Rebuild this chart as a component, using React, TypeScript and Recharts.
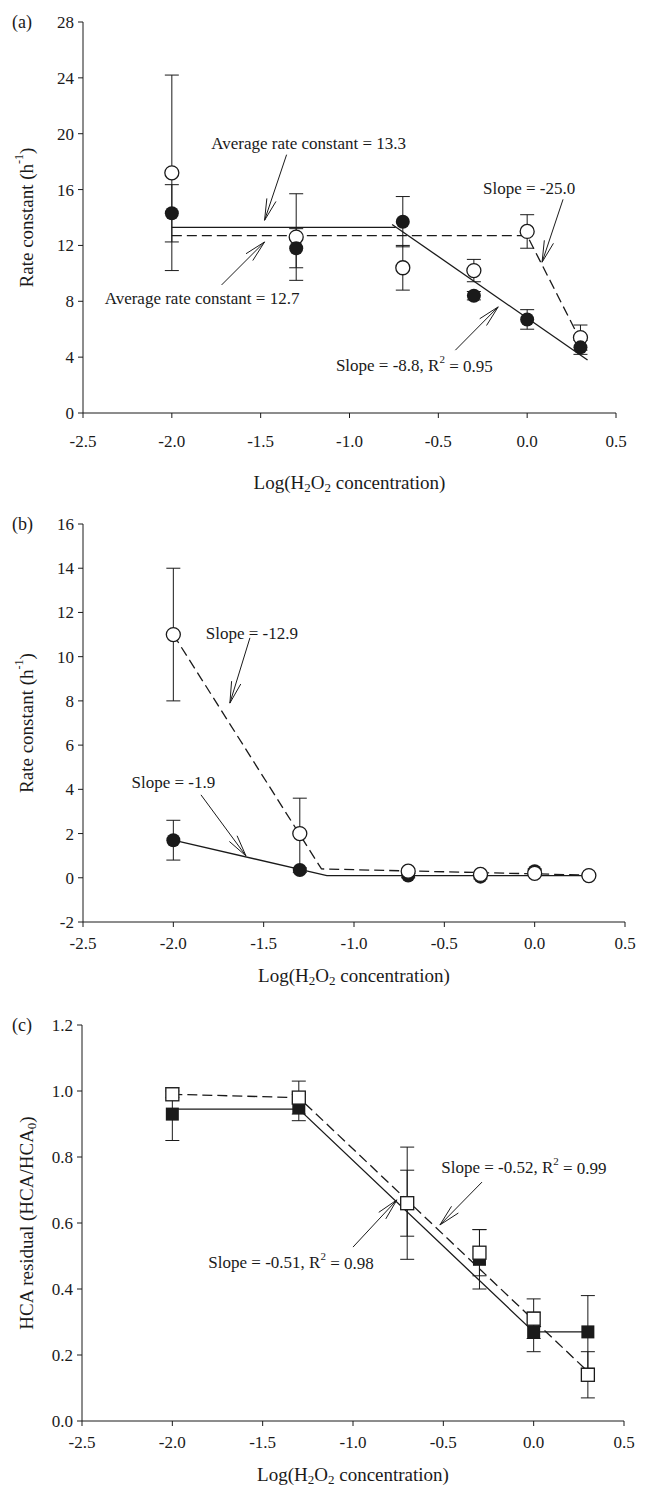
import React from "react";
import {
  ScatterChart,
  Scatter,
  XAxis,
  YAxis,
  ErrorBar,
  ReferenceLine,
  ReferenceDot,
} from "recharts";

const FONT = "'Liberation Serif', 'Times New Roman', serif";
const INK = "#1a1a1a";
const DASH = "10 5";

// shared x positions (log of H2O2 concentration)
const concX = [-2.0, -1.3, -0.7, -0.3, 0.0, 0.3];
const xTicks = [-2.5, -2.0, -1.5, -1.0, -0.5, 0.0, 0.5];

// panel (a)
const aYTicks = [0, 4, 8, 12, 16, 20, 24, 28];
const aOpenY = [17.2, 12.6, 10.4, 10.2, 13.0, 5.4];
const aOpenErr = [7.0, 3.1, 1.6, 0.8, 1.2, 0.9];
const aFilledY = [14.3, 11.8, 13.7, 8.4, 6.7, 4.7];
const aFilledErr = [2.05, 1.4, 1.8, 0.3, 0.7, 0.5];
const aAvgSolidX = [-2.0, -0.74];
const aAvgSolidY = [13.3, 13.3];
const aSlopeSolidX = [-0.76, 0.34];
const aSlopeSolidY = [13.5, 3.8];
const aDashX = [-2.0, 0.0, 0.28];
const aDashY = [12.7, 12.7, 5.7];

// panel (b)
const bYTicks = [-2, 0, 2, 4, 6, 8, 10, 12, 14, 16];
const bOpenY = [11.0, 2.0, 0.3, 0.15, 0.2, 0.1];
const bOpenErr = [3.0, 1.6, 0.1, 0.1, 0.1, 0.05];
const bFilledY = [1.7, 0.35, 0.1, 0.05, 0.3, 0.1];
const bFilledErr = [0.9, 0.1, 0.1, 0.1, 0.1, 0.05];
const bDashX = [-2.0, -1.18, 0.3];
const bDashY = [11.0, 0.4, 0.12];
const bSolidX = [-2.0, -1.15, 0.3];
const bSolidY = [1.7, 0.1, 0.1];

// panel (c)
const cYTicks = [0, 0.2, 0.4, 0.6, 0.8, 1.0, 1.2];
const cOpenY = [0.99, 0.98, 0.66, 0.51, 0.31, 0.14];
const cOpenErr = [0.01, 0.05, 0.17, 0.07, 0.06, 0.07];
const cFilledY = [0.93, 0.95, 0.66, 0.49, 0.27, 0.27];
const cFilledErr = [0.08, 0.04, 0.1, 0.09, 0.06, 0.11];
const cSolidX = [-2.0, -1.3, 0.0, 0.3];
const cSolidY = [0.945, 0.945, 0.27, 0.27];
const cDashX = [-2.0, -1.3, 0.3];
const cDashY = [0.99, 0.98, 0.15];

// annotations: text centre and arrow tail -> tip, in data units
const aNotes = [
  { pre: "Average rate constant = 13.3", sup: "", post: "", x: -1.23, y: 19.3, ax: -1.354, ay: 18.5, bx: -1.478, by: 13.8 },
  { pre: "Slope = -25.0", sup: "", post: "", x: 0.011, y: 16.1, ax: 0.202, ay: 15.3, bx: 0.084, by: 10.8 },
  { pre: "Average rate constant = 12.7", sup: "", post: "", x: -1.83, y: 8.17, ax: -1.72, ay: 9.17, bx: -1.478, by: 12.25 },
  { pre: "Slope = -8.8, R", sup: "2", post: " = 0.95", x: -0.635, y: 3.37, ax: -0.404, ay: 4.5, bx: -0.163, by: 7.6 },
];
const bNotes = [
  { pre: "Slope = -12.9", sup: "", post: "", x: -1.565, y: 11.07, ax: -1.576, ay: 10.85, bx: -1.687, by: 7.9 },
  { pre: "Slope = -1.9", sup: "", post: "", x: -2.0, y: 4.29, ax: -1.847, ay: 3.75, bx: -1.598, by: 0.99 },
];
const cNotes = [
  { pre: "Slope = -0.52, R", sup: "2", post: " = 0.99", x: -0.054, y: 0.767, ax: -0.286, ay: 0.724, bx: -0.519, by: 0.594 },
  { pre: "Slope = -0.51, R", sup: "2", post: " = 0.98", x: -1.343, y: 0.479, ax: -1.0, ay: 0.527, bx: -0.757, by: 0.67 },
];

const zip = (xs: number[], ys: number[], es?: number[]) =>
  xs.map((x, i) => ({ x, y: ys[i], err: es ? es[i] : 0 }));

const OpenCircle = (p: any) => (
  <circle cx={p.cx} cy={p.cy} r={7} fill="#fff" stroke={INK} strokeWidth={1.3} />
);
const FilledCircle = (p: any) => <circle cx={p.cx} cy={p.cy} r={7} fill={INK} />;
const OpenSquare = (p: any) => (
  <rect x={p.cx - 6.5} y={p.cy - 6.5} width={13} height={13} fill="#fff" stroke={INK} strokeWidth={1.3} />
);
const FilledSquare = (p: any) => (
  <rect x={p.cx - 6.5} y={p.cy - 6.5} width={13} height={13} fill={INK} />
);
const NoDot = () => null;

const Arrow = (p: any) => {
  const { x1, y1, x2, y2 } = p;
  const ang = Math.atan2(y2 - y1, x2 - x1);
  const L = 22;
  const a = 0.22;
  const h1x = x2 - L * Math.cos(ang - a);
  const h1y = y2 - L * Math.sin(ang - a);
  const h2x = x2 - L * Math.cos(ang + a);
  const h2y = y2 - L * Math.sin(ang + a);
  return (
    <g stroke={INK} strokeWidth={1}>
      <line x1={x1} y1={y1} x2={x2} y2={y2} />
      <line x1={x2} y1={y2} x2={h1x} y2={h1y} />
      <line x1={x2} y1={y2} x2={h2x} y2={h2y} />
    </g>
  );
};

const noteText = (n: any) => (p: any) => (
  <text x={p.cx} y={p.cy} textAnchor="middle" dominantBaseline="central" fontFamily={FONT} fontSize={17} fill={INK}>
    {n.pre}
    {n.sup ? (
      <>
        <tspan dy={-7} fontSize={11}>{n.sup}</tspan>
        <tspan dy={7}>{n.post}</tspan>
      </>
    ) : null}
  </text>
);

const XTitle = ({ viewBox, gap }: any) => (
  <text
    x={viewBox.x + viewBox.width / 2}
    y={viewBox.y + gap}
    textAnchor="middle"
    dominantBaseline="central"
    fontFamily={FONT}
    fontSize={19}
    fill={INK}
  >
    Log(H<tspan dy={5} fontSize={13}>2</tspan>
    <tspan dy={-5}>O</tspan>
    <tspan dy={5} fontSize={13}>2</tspan>
    <tspan dy={-5}> concentration)</tspan>
  </text>
);

const YTitle = ({ viewBox, tag, kind }: any) => {
  const cx = 26;
  const cy = viewBox.y + viewBox.height / 2;
  return (
    <g fontFamily={FONT} fill={INK}>
      <text x={12} y={viewBox.y} dominantBaseline="central" fontSize={18}>
        {tag}
      </text>
      <text
        x={cx}
        y={cy}
        transform={`rotate(-90 ${cx} ${cy})`}
        textAnchor="middle"
        dominantBaseline="central"
        fontSize={19}
      >
        {kind === "rate" ? (
          <>
            Rate constant (h<tspan dy={-7} fontSize={12}>-1</tspan>
            <tspan dy={7}>)</tspan>
          </>
        ) : (
          <>
            HCA residual (HCA/HCA<tspan dy={5} fontSize={13}>0</tspan>
            <tspan dy={-5}>)</tspan>
          </>
        )}
      </text>
    </g>
  );
};

const tickStyle = { fill: INK, fontSize: 17, fontFamily: FONT };

type PanelProps = {
  top: number;
  height: number;
  margin: any;
  yDomain: number[];
  yTicks: number[];
  yFmt: (v: number) => string;
  tag: string;
  kind: string;
  tickGap: number;
  titleGap: number;
  lines: { pts: any[]; dash?: boolean }[];
  first: { pts: any[]; shape: any };
  second: { pts: any[]; shape: any };
  notes: any[];
};

const Panel = (p: PanelProps) => (
  <div style={{ position: "absolute", left: 0, top: p.top }}>
    <ScatterChart width={651} height={p.height} margin={p.margin}>
      <XAxis
        type="number"
        dataKey="x"
        domain={[-2.5, 0.5]}
        ticks={xTicks}
        tickFormatter={(v: number) => v.toFixed(1)}
        allowDataOverflow
        stroke={INK}
        tickSize={5}
        tickMargin={p.tickGap}
        tick={tickStyle}
        height={30}
        label={{ content: (lp: any) => <XTitle viewBox={lp.viewBox} gap={p.titleGap} /> }}
      />
      <YAxis
        type="number"
        dataKey="y"
        domain={p.yDomain}
        ticks={p.yTicks}
        tickFormatter={p.yFmt}
        allowDataOverflow
        stroke={INK}
        tickSize={5}
        tickMargin={4}
        tick={tickStyle}
        width={60}
        label={{ content: (lp: any) => <YTitle viewBox={lp.viewBox} tag={p.tag} kind={p.kind} /> }}
      />
      {p.lines.map((l, i) => (
        <Scatter
          key={"l" + i}
          data={l.pts}
          line={{ stroke: INK, strokeWidth: 1.3, strokeDasharray: l.dash ? DASH : undefined }}
          shape={NoDot}
          isAnimationActive={false}
        />
      ))}
      {p.notes.map((n, i) => (
        <ReferenceLine
          key={"a" + i}
          segment={[
            { x: n.ax, y: n.ay },
            { x: n.bx, y: n.by },
          ]}
          ifOverflow="visible"
          shape={Arrow}
        />
      ))}
      {p.notes.map((n, i) => (
        <ReferenceDot key={"t" + i} x={n.x} y={n.y} r={0} ifOverflow="visible" shape={noteText(n)} />
      ))}
      <Scatter data={p.first.pts} shape={p.first.shape} isAnimationActive={false}>
        <ErrorBar dataKey="err" direction="y" width={7} stroke={INK} strokeWidth={1} />
      </Scatter>
      <Scatter data={p.second.pts} shape={p.second.shape} isAnimationActive={false}>
        <ErrorBar dataKey="err" direction="y" width={7} stroke={INK} strokeWidth={1} />
      </Scatter>
    </ScatterChart>
  </div>
);

const intFmt = (v: number) => String(v);
const decFmt = (v: number) => v.toFixed(1);

export default function App() {
  return (
    <div style={{ position: "absolute", left: 0, top: 0, width: 651, height: 1491, background: "#fff" }}>
      <Panel
        top={0}
        height={495}
        margin={{ top: 22, right: 35, left: 23, bottom: 52 }}
        yDomain={[0, 28]}
        yTicks={aYTicks}
        yFmt={intFmt}
        tag="(a)"
        kind="rate"
        tickGap={17}
        titleGap={69}
        lines={[
          { pts: zip(aAvgSolidX, aAvgSolidY) },
          { pts: zip(aSlopeSolidX, aSlopeSolidY) },
          { pts: zip(aDashX, aDashY), dash: true },
        ]}
        first={{ pts: zip(concX, aOpenY, aOpenErr), shape: OpenCircle }}
        second={{ pts: zip(concX, aFilledY, aFilledErr), shape: FilledCircle }}
        notes={aNotes}
      />
      <Panel
        top={495}
        height={500}
        margin={{ top: 29, right: 26, left: 23, bottom: 43 }}
        yDomain={[-2, 16]}
        yTicks={bYTicks}
        yFmt={intFmt}
        tag="(b)"
        kind="rate"
        tickGap={10}
        titleGap={53}
        lines={[
          { pts: zip(bSolidX, bSolidY) },
          { pts: zip(bDashX, bDashY), dash: true },
        ]}
        first={{ pts: zip(concX, bFilledY, bFilledErr), shape: FilledCircle }}
        second={{ pts: zip(concX, bOpenY, bOpenErr), shape: OpenCircle }}
        notes={bNotes}
      />
      <Panel
        top={995}
        height={496}
        margin={{ top: 30, right: 27, left: 22, bottom: 40 }}
        yDomain={[0, 1.2]}
        yTicks={cYTicks}
        yFmt={decFmt}
        tag="(c)"
        kind="hca"
        tickGap={10}
        titleGap={53}
        lines={[
          { pts: zip(cSolidX, cSolidY) },
          { pts: zip(cDashX, cDashY), dash: true },
        ]}
        first={{ pts: zip(concX, cFilledY, cFilledErr), shape: FilledSquare }}
        second={{ pts: zip(concX, cOpenY, cOpenErr), shape: OpenSquare }}
        notes={cNotes}
      />
    </div>
  );
}
